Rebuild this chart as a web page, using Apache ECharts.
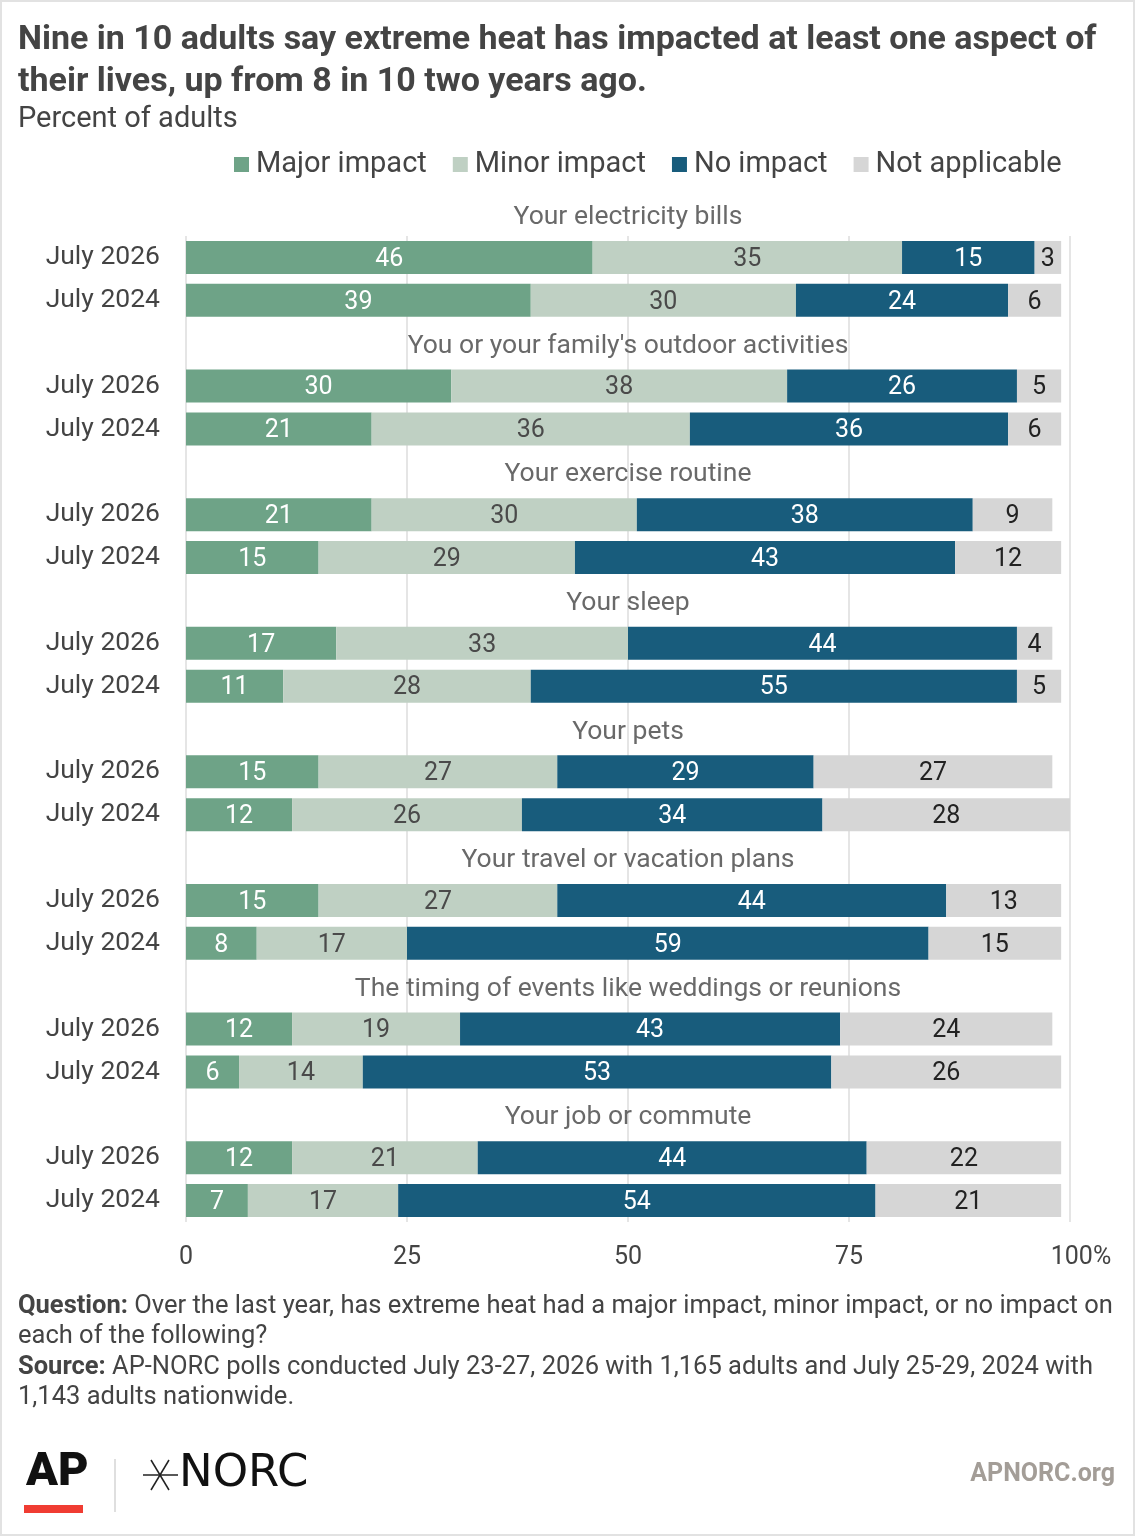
<!DOCTYPE html>
<html>
<head>
<meta charset="utf-8">
<script src="https://cdn.jsdelivr.net/npm/echarts@6/dist/echarts.min.js"></script>
<style>
html,body{margin:0;padding:0;background:#fff;}
#chart{width:1135px;height:1536px;}
</style>
</head>
<body>
<div id="chart"></div>
<script>
const groups = [
  "Your electricity bills",
  "You or your family's outdoor activities",
  "Your exercise routine",
  "Your sleep",
  "Your pets",
  "Your travel or vacation plans",
  "The timing of events like weddings or reunions",
  "Your job or commute"
];
const periods = ["July 2026", "July 2024"];
const seriesNames = ["Major impact", "Minor impact", "No impact", "Not applicable"];

const major2026 = [46, 30, 21, 17, 15, 15, 12, 12];
const minor2026 = [35, 38, 30, 33, 27, 27, 19, 21];
const none2026  = [15, 26, 38, 44, 29, 44, 43, 44];
const na2026    = [3, 5, 9, 4, 27, 13, 24, 22];

const major2024 = [39, 21, 15, 11, 12, 8, 6, 7];
const minor2024 = [30, 36, 29, 28, 26, 17, 14, 17];
const none2024  = [24, 36, 43, 55, 34, 59, 53, 54];
const na2024    = [6, 6, 12, 5, 28, 15, 26, 21];

const xTicks = [0, 25, 50, 75, 100];

// row keys: title rows (except first group), then the two period rows
const rows = [];
groups.forEach((g, i) => {
  if (i > 0) rows.push('t' + i);
  rows.push('a' + i);
  rows.push('b' + i);
});

function rowData(arr26, arr24) {
  return rows.map(r => {
    const i = +r.slice(1);
    if (r[0] === 'a') return arr26[i];
    if (r[0] === 'b') return arr24[i];
    return '-';
  });
}

const colors = ['#6ea387', '#bfd0c3', '#185c7c', '#d6d6d6'];
const labelColors = ['#ffffff', '#4a4a4a', '#ffffff', '#222222'];
const pairs = [[major2026, major2024], [minor2026, minor2024], [none2026, none2024], [na2026, na2024]];

const FONT = 'Roboto';

const barSeries = seriesNames.map((name, k) => ({
  name: name,
  type: 'bar',
  stack: 'total',
  barWidth: 33,
  data: rowData(pairs[k][0], pairs[k][1]),
  itemStyle: { color: colors[k] },
  label: {
    show: true,
    position: 'inside',
    color: labelColors[k],
    fontSize: 25,
    fontFamily: FONT,
    offset: [0, 2]
  },
  emphasis: { disabled: true }
}));

const titleData = groups.map((g, i) => ({
  name: g,
  value: [50, i === 0 ? -1 : rows.indexOf('t' + i)]
}));

const titleSeries = {
  name: 'groupTitles',
  type: 'scatter',
  symbolSize: 0,
  clip: false,
  silent: true,
  data: titleData,
  label: {
    show: true,
    position: 'inside',
    formatter: '{b}',
    color: '#444',
    fontSize: 26.5,
    fontFamily: FONT,
    offset: [0, 3]
  }
};

const chart = echarts.init(document.getElementById('chart'), null, { renderer: 'canvas' });

chart.setOption({
  backgroundColor: '#ffffff',
  animation: false,
  textStyle: { fontFamily: FONT },
  title: [
    {
      text: 'Nine in 10 adults say extreme heat has impacted at least one aspect of\ntheir lives, up from 8 in 10 two years ago.',
      left: 18,
      top: 19,
      padding: 0,
      textStyle: { fontFamily: FONT, fontWeight: 'bold', fontSize: 34, lineHeight: 42, color: '#444' }
    },
    {
      text: 'Percent of adults',
      left: 18,
      top: 105,
      padding: 0,
      textStyle: { fontFamily: FONT, fontWeight: 'normal', fontSize: 29, lineHeight: 30, color: '#444' }
    }
  ],
  legend: {
    data: seriesNames,
    left: 234,
    top: 150,
    padding: 0,
    icon: 'rect',
    itemWidth: 15,
    itemHeight: 15,
    itemGap: 26,
    textStyle: { fontFamily: FONT, fontSize: 29, color: '#444', padding: [0, 0, 0, 2] },
    selectedMode: false
  },
  grid: { left: 186, right: 65, top: 236, bottom: 314, containLabel: false },
  xAxis: {
    type: 'value',
    min: 0,
    max: 100,
    interval: 25,
    axisLine: { show: false },
    axisTick: { show: false },
    splitLine: { show: true, lineStyle: { color: '#dcdcdc', width: 1.5 } },
    axisLabel: {
      margin: 23,
      fontSize: 25,
      color: '#444',
      fontFamily: FONT,
      formatter: v => (v === xTicks[xTicks.length - 1] ? '{p|' + v + '%}' : String(v)),
      rich: { p: { fontSize: 25, color: '#444', fontFamily: FONT, padding: [0, 0, 0, 22] } }
    }
  },
  yAxis: {
    type: 'category',
    inverse: true,
    data: rows,
    axisLine: { show: false },
    axisTick: { show: false },
    splitLine: { show: false },
    axisLabel: {
      margin: 26,
      fontSize: 26.5,
      color: '#444',
      fontFamily: FONT,
      formatter: v => (v[0] === 'a' ? periods[0] : v[0] === 'b' ? periods[1] : '')
    }
  },
  series: barSeries.concat([titleSeries]),
  graphic: [
    {
      type: 'rect',
      silent: true,
      shape: { x: 1, y: 1, width: 1133, height: 1534 },
      style: { fill: 'none', stroke: '#e2e2e2', lineWidth: 2 }
    },
    {
      type: 'text',
      left: 18,
      top: 1291,
      style: {
        text: '{b|Question:} Over the last year, has extreme heat had a major impact, minor impact, or no impact on\neach of the following?\n{b|Source:} AP-NORC polls conducted July 23-27, 2026 with 1,165 adults and July 25-29, 2024 with\n1,143 adults nationwide.',
        font: '25.5px Roboto',
        fill: '#444',
        lineHeight: 30.5,
        rich: {
          b: { fontWeight: 'bold', fontSize: 25.5, fontFamily: FONT, fill: '#444', lineHeight: 30.5 }
        }
      }
    },
    {
      type: 'text',
      left: 26,
      top: 1450,
      style: { text: 'AP', font: '900 47px Roboto', fill: '#111' }
    },
    {
      type: 'rect',
      shape: { x: 24, y: 1505, width: 59, height: 8 },
      style: { fill: '#f03c32' }
    },
    {
      type: 'line',
      shape: { x1: 115, y1: 1459, x2: 115, y2: 1512 },
      style: { stroke: '#d4d4d4', lineWidth: 1.5 }
    },
    {
      type: 'line',
      shape: { x1: 143, y1: 1475, x2: 178, y2: 1475 },
      style: { stroke: '#222', lineWidth: 1.5 }
    },
    {
      type: 'line',
      shape: { x1: 151, y1: 1460, x2: 169, y2: 1490 },
      style: { stroke: '#222', lineWidth: 1.5 }
    },
    {
      type: 'line',
      shape: { x1: 169, y1: 1460, x2: 151, y2: 1490 },
      style: { stroke: '#222', lineWidth: 1.5 }
    },
    {
      type: 'text',
      left: 179,
      top: 1452,
      style: { text: 'NORC', font: '45px "DejaVu Sans"', fill: '#111' }
    },
    {
      type: 'text',
      right: 20,
      top: 1462,
      style: { text: 'APNORC.org', font: 'bold 25px Roboto', fill: '#a39d97' }
    }
  ]
});
</script>
</body>
</html>
